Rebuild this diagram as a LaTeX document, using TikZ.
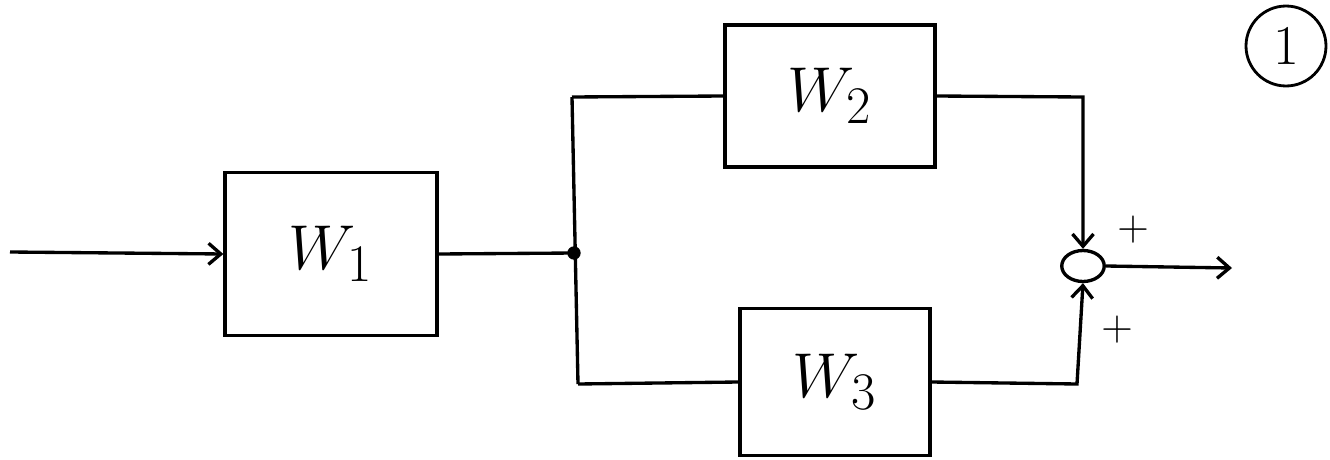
\documentclass[tikz,border=0pt]{standalone}
\usetikzlibrary{arrows.meta,shapes.geometric}
\newcommand{\bigmath}[1]{\scalebox{1.45}{\Huge$#1$}}
\begin{document}
\begin{tikzpicture}[x=0.02cm,y=-0.02cm,
  line width=1.9pt,
  blk/.style={draw,line width=1.9pt,minimum width=4.1cm,minimum height=3cm,inner sep=0pt},
  sumnode/.style={draw,ellipse,line width=1.9pt,minimum width=0.85cm,minimum height=0.62cm,inner sep=0pt},
  arr/.style={-{Straight Barb[length=7pt,width=12pt,line width=1.9pt]}},
  sign/.style={font=\Huge}
]
\useasboundingbox (0,0) rectangle (1330,460);
\coordinate (in) at (10,252);
\node[blk,minimum width=4.24cm,minimum height=3.26cm] (w1) at (331,254) {\bigmath{W_1}};
\node[blk,minimum width=4.2cm,minimum height=2.84cm] (w2) at (830,96) {\bigmath{W_2}};
\node[blk,minimum width=3.8cm,minimum height=2.94cm] (w3) at (835,382) {\bigmath{W_3}};
\coordinate (j) at (574,253);
\coordinate (jt) at (572,97);
\coordinate (jb) at (578,384);
\node[sumnode] (s) at (1083,266) {};
\coordinate (tr) at (1083,97);
\coordinate (br) at (1077,384);
\coordinate (out) at (1232,268);
\fill (j) circle (3.8pt);
\draw[arr] (in) -- (w1.west);
\draw (w1.east) -- (j);
\draw (jt) -- (jb);
\draw (jt) -- (w2.west);
\draw (jb) -- (w3.west);
\draw[arr] (w2.east) -- (tr) -- (s.north);
\draw[arr] (w3.east) -- (br) -- (s.south);
\draw[arr] (s.east) -- (out);
\node[sign] (p1) at (1133,230) {$+$};
\node[sign] (p2) at (1117,330) {$+$};
\node[draw,circle,line width=1.6pt,minimum size=1.6cm,font=\fontsize{32}{32}\selectfont] (one) at (1286,46) {1};
\end{tikzpicture}
\end{document}
